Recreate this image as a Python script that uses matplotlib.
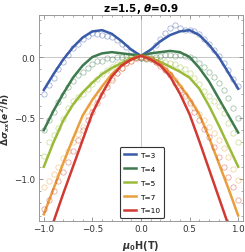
import matplotlib
matplotlib.use("Agg")
import matplotlib.pyplot as plt
import numpy as np
from matplotlib.ticker import MultipleLocator

# field values (T)
h_data = np.linspace(-1.0, 1.0, 41)
h_fit = np.linspace(-1.0, 1.0, 21)

temps = ['T=3', 'T=4', 'T=5', 'T=7', 'T=10']

data3 = [-0.30, -0.23, -0.17, -0.10, -0.04, 0.02, 0.07, 0.11, 0.15, 0.17,
         0.20, 0.19, 0.18, 0.17, 0.16, 0.14, 0.11, 0.08, 0.05, 0.02,
         -0.01, 0.01, 0.05, 0.10, 0.15, 0.20, 0.24, 0.26, 0.24, 0.22,
         0.22, 0.21, 0.19, 0.15, 0.11, 0.06, 0.01, -0.05, -0.11, -0.18, -0.24]
data4 = [-0.60, -0.52, -0.45, -0.37, -0.31, -0.25, -0.20, -0.15, -0.12, -0.09,
         -0.06, -0.03, -0.03, -0.01, -0.02, 0.00, 0.00, 0.01, 0.01, 0.00,
         -0.01, -0.02, -0.01, 0.00, 0.01, 0.02, 0.02, 0.01, 0.02, 0.01,
         0.00, -0.02, -0.05, -0.08, -0.12, -0.16, -0.21, -0.27, -0.34, -0.42, -0.50]
data5 = [-0.81, -0.70, -0.64, -0.58, -0.51, -0.42, -0.36, -0.33, -0.30, -0.26,
         -0.22, -0.18, -0.14, -0.11, -0.08, -0.06, -0.04, -0.02, -0.01, 0.00,
         0.00, -0.01, -0.01, -0.02, -0.03, -0.04, -0.05, -0.06, -0.08, -0.10,
         -0.13, -0.17, -0.22, -0.28, -0.32, -0.36, -0.40, -0.46, -0.54, -0.62, -0.70]
data7 = [-1.07, -1.02, -0.96, -0.90, -0.83, -0.77, -0.70, -0.63, -0.57, -0.48,
         -0.41, -0.34, -0.28, -0.22, -0.17, -0.13, -0.09, -0.05, -0.03, -0.01,
         0.00, -0.01, -0.02, -0.04, -0.06, -0.10, -0.14, -0.19, -0.25, -0.30,
         -0.36, -0.42, -0.47, -0.52, -0.57, -0.62, -0.68, -0.75, -0.82, -0.92, -1.01]
data10 = [-1.25, -1.17, -1.10, -1.02, -0.94, -0.86, -0.77, -0.68, -0.60, -0.52,
          -0.45, -0.38, -0.31, -0.25, -0.19, -0.13, -0.09, -0.05, -0.03, -0.01,
          0.00, -0.01, -0.02, -0.04, -0.07, -0.11, -0.15, -0.21, -0.27, -0.32,
          -0.38, -0.45, -0.52, -0.59, -0.66, -0.74, -0.82, -0.90, -0.98, -1.07, -1.17]

# fitted curves
fit3 = [-0.27, -0.14, -0.02, 0.08, 0.16, 0.21, 0.22, 0.19, 0.13, 0.06, 0.01,
        0.06, 0.13, 0.18, 0.21, 0.22, 0.18, 0.10, 0.00, -0.13, -0.26]
fit4 = [-0.60, -0.44, -0.30, -0.17, -0.07, 0.00, 0.03, 0.04, 0.03, 0.02, 0.01,
        0.03, 0.04, 0.05, 0.04, 0.00, -0.09, -0.20, -0.34, -0.48, -0.62]
fit5 = [-0.90, -0.70, -0.52, -0.39, -0.29, -0.21, -0.14, -0.09, -0.05, -0.01, 0.01,
        -0.01, -0.04, -0.08, -0.12, -0.17, -0.26, -0.40, -0.56, -0.73, -0.90]
fit7 = [-1.29, -1.08, -0.87, -0.67, -0.48, -0.35, -0.24, -0.14, -0.07, -0.02, 0.01,
        -0.02, -0.06, -0.13, -0.23, -0.34, -0.47, -0.66, -0.87, -1.08, -1.30]
fit10 = [-1.57, -1.35, -1.12, -0.90, -0.68, -0.46, -0.30, -0.16, -0.07, -0.02, 0.01,
         -0.02, -0.07, -0.16, -0.30, -0.47, -0.69, -0.92, -1.15, -1.38, -1.60]

colors = ['#3a5ba8', '#3f7a4e', '#9aba3a', '#e89f3e', '#d13a33']
datas = [data3, data4, data5, data7, data10]
fits = [fit3, fit4, fit5, fit7, fit10]

fig = plt.figure(figsize=(2.45, 2.53), dpi=100)
ax = fig.add_axes([0.159, 0.1225, 0.833, 0.8145])

ax.axhline(0, color='#c8c8c8', lw=0.7, zorder=0)
ax.axvline(0, color='#c8c8c8', lw=0.7, zorder=0)

lines = []
for d, f, c, lab in zip(datas, fits, colors, temps):
    ax.plot(h_data, d, 'o', mfc='none', mec=c, mew=0.5, ms=3.8, alpha=0.55)
    ln, = ax.plot(h_fit, f, '-', color=c, lw=1.8, label=lab)
    lines.append(ln)

ax.set_xlim(-1.05, 1.05)
ax.set_ylim(-1.345, 0.345)
ax.xaxis.set_major_locator(MultipleLocator(0.5))
ax.xaxis.set_minor_locator(MultipleLocator(0.1))
ax.yaxis.set_major_locator(MultipleLocator(0.5))
ax.yaxis.set_minor_locator(MultipleLocator(0.1))
ax.tick_params(which='both', direction='in', top=True, right=True,
               color='#888888', labelsize=6.3, labelcolor='#333333', pad=2.5)
ax.tick_params(which='major', length=3, width=0.6)
ax.tick_params(which='minor', length=1.6, width=0.5)
for s in ax.spines.values():
    s.set_color('#999999')
    s.set_linewidth(0.7)

ax.set_title(r'z=1.5, $\boldsymbol{\theta}$=0.9', fontsize=7.5,
             fontweight='bold', pad=3)
ax.set_xlabel(r'$\boldsymbol{\mu}_\mathbf{0}$H(T)', fontsize=7,
              fontweight='bold', color='#333333', labelpad=3)
ax.set_ylabel(r'$\mathbf{\Delta}\boldsymbol{\sigma}_\boldsymbol{xx}\mathbf{(}\boldsymbol{e}^\mathbf{2}\mathbf{/}\boldsymbol{h}\mathbf{)}$',
              fontsize=6.6, color='#333333', labelpad=0)
ax.yaxis.set_label_coords(-0.13, 0.5)

leg = ax.legend(handles=lines, loc='lower left', bbox_to_anchor=(0.397, 0.015),
                borderaxespad=0, fontsize=5.3, handlelength=1.6,
                labelspacing=1.05, handletextpad=0.5, borderpad=0.6,
                fancybox=True, framealpha=1, edgecolor='#333333')
leg.get_frame().set_linewidth(0.8)

fig.savefig('out.png', dpi=100)
